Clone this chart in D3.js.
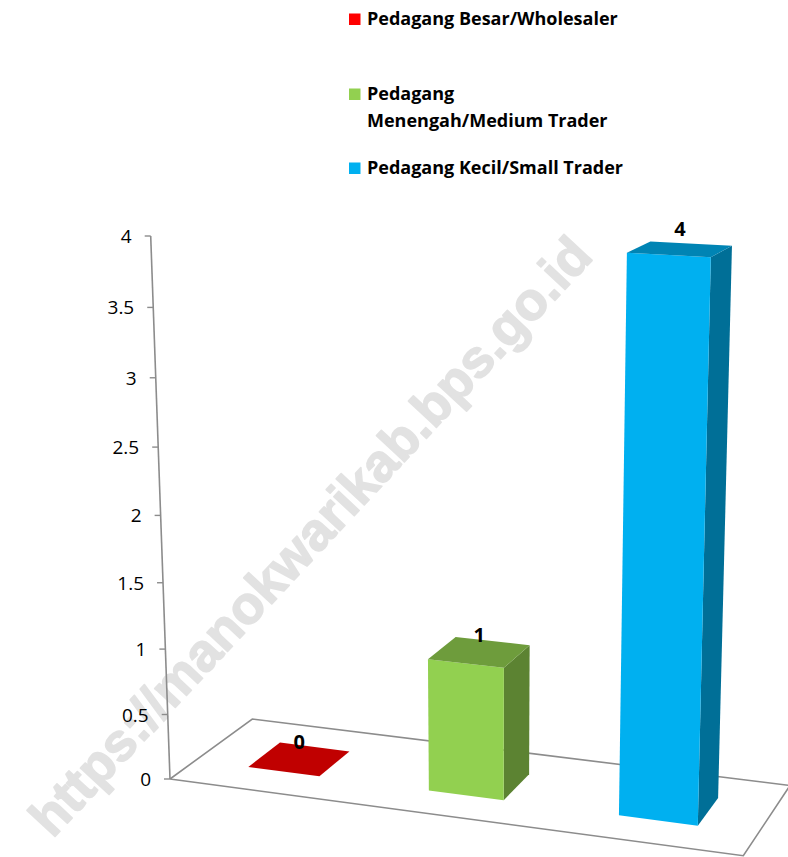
<!DOCTYPE html>
<html>
<head>
<meta charset="utf-8">
<script src="https://cdn.jsdelivr.net/npm/d3@7"></script>
<style>
  html, body { margin: 0; padding: 0; background: #fff; }
  svg { display: block; }
  text { font-family: "Open Sans", "Noto Sans", sans-serif; }
</style>
</head>
<body>
<div id="chart"></div>
<script>
// ---- data ----
var categories = ["Pedagang Besar/Wholesaler", "Pedagang Menengah/Medium Trader", "Pedagang Kecil/Small Trader"];
var legendLines = [["Pedagang Besar/Wholesaler"], ["Pedagang", "Menengah/Medium Trader"], ["Pedagang Kecil/Small Trader"]];
var values = [0, 1, 4];
var yTicks = [0, 0.5, 1, 1.5, 2, 2.5, 3, 3.5, 4];
var colors = ["#ff0000", "#92d050", "#00b0f0"];
var watermark = "https://manokwarikab.bps.go.id";

var width = 788, height = 857;

// Camera: where the floor corners, axis top and vertical vanishing point land on screen.
var cam = {
  origin: [170, 779],
  xEnd: [743.3, 855.7],
  zEnd: [252.3, 719],
  xzEnd: [790, 785.5],
  yEnd: [150.7, 236],
  vanishY: 9823
};

function makeProjection(c) {
  var O = c.origin, Px = c.xEnd, Pz = c.zEnd, Q = c.xzEnd, Py = c.yEnd;
  var a11 = Px[0] - Q[0], a12 = Pz[0] - Q[0], b1 = O[0] - Q[0];
  var a21 = Px[1] - Q[1], a22 = Pz[1] - Q[1], b2 = O[1] - Q[1];
  var det = a11 * a22 - a12 * a21;
  var A = (b1 * a22 - a12 * b2) / det;
  var C = (a11 * b2 - b1 * a21) / det;
  var B = (O[1] - c.vanishY) / (Py[1] - c.vanishY);
  function col(P, k) { return [k * P[0] - O[0], k * P[1] - O[1], k - 1]; }
  var a = col(Px, A), b = col(Py, B), cc = col(Pz, C);
  return function (x, y, z) {
    var hx = x * a[0] + y * b[0] + z * cc[0] + O[0];
    var hy = x * a[1] + y * b[1] + z * cc[1] + O[1];
    var hw = x * a[2] + y * b[2] + z * cc[2] + 1;
    return [hx / hw, hy / hw];
  };
}
var project = makeProjection(cam);

var x = d3.scaleBand().domain(categories).range([0, 1]).paddingInner(0.6).paddingOuter(0.3);
var y = d3.scaleLinear().domain([0, 4]).range([0, 1]);
var z0 = 0.3, z1 = 0.7;

var svg = d3.select("#chart").append("svg")
  .attr("width", width)
  .attr("height", height);

// Watermark
svg.append("text")
  .attr("transform", "translate(310,536) rotate(-47)")
  .attr("text-anchor", "middle")
  .attr("dominant-baseline", "central")
  .style("font-family", "'Liberation Sans', Arial, sans-serif")
  .style("font-weight", "bold")
  .style("font-size", "53px")
  .attr("fill", "#e2e2e2")
  .attr("stroke", "#e2e2e2")
  .attr("stroke-width", 1.5)
  .attr("stroke-linejoin", "round")
  .text(watermark);

// Floor frame
var line = d3.line();
var floor = [[0, 0, 0], [1, 0, 0], [1, 0, 1], [0, 0, 1], [0, 0, 0]];
svg.append("path")
  .attr("d", line(floor.map(function (p) { return project(p[0], p[1], p[2]); })))
  .attr("fill", "none")
  .attr("stroke", "#8c8c8c")
  .attr("stroke-width", 1.6);

// Value axis
var axisG = svg.append("g").attr("class", "y-axis");
axisG.append("path")
  .attr("d", line([project(0, 0, 0), project(0, 1, 0)]))
  .attr("stroke", "#8c8c8c")
  .attr("stroke-width", 1.6);

var ticks = axisG.selectAll(".tick")
  .data(yTicks)
  .join("g")
  .attr("class", "tick")
  .attr("transform", function (d) {
    var p = project(0, y(d), 0);
    return "translate(" + p[0] + "," + p[1] + ")";
  });
ticks.append("line")
  .attr("x1", -6).attr("x2", 0)
  .attr("stroke", "#8c8c8c")
  .attr("stroke-width", 1.4);
ticks.append("text")
  .attr("x", -19)
  .attr("y", 2)
  .attr("text-anchor", "end")
  .attr("dominant-baseline", "middle")
  .style("font-size", "19px")
  .attr("fill", "#000")
  .text(function (d) { return d; });

// Bars
var bars = categories.map(function (c, i) {
  return { cat: c, value: values[i], color: colors[i] };
});

function poly(pts) {
  return line(pts.map(function (p) { return project(p[0], p[1], p[2]); })) + "Z";
}

var barG = svg.selectAll(".bar")
  .data(bars)
  .join("g")
  .attr("class", "bar");

barG.each(function (d) {
  var g = d3.select(this);
  var u0 = x(d.cat), u1 = u0 + x.bandwidth(), h = y(d.value);
  var base = d3.color(d.color);
  if (h > 0) {
    g.append("path")
      .attr("d", poly([[u1, 0, z0], [u1, 0, z1], [u1, h, z1], [u1, h, z0]]))
      .attr("fill", base.darker(1.3));
    g.append("path")
      .attr("d", poly([[u0, 0, z0], [u1, 0, z0], [u1, h, z0], [u0, h, z0]]))
      .attr("fill", base);
  }
  g.append("path")
    .attr("d", poly([[u0, h, z0], [u1, h, z0], [u1, h, z1], [u0, h, z1]]))
    .attr("fill", base.darker(0.8));

  var top = project(u0 + x.bandwidth() / 2, h, (z0 + z1) / 2);
  g.append("text")
    .attr("x", top[0])
    .attr("y", top[1] - (h > 0.5 ? 13 : 10))
    .attr("text-anchor", "middle")
    .style("font-size", "20px")
    .style("font-weight", "bold")
    .attr("fill", "#000")
    .text(d.value);
});

// Legend
var legendTop = [25, 100, 174];
var legend = svg.append("g").attr("class", "legend");
var items = legend.selectAll("g")
  .data(legendLines)
  .join("g")
  .attr("transform", function (d, i) { return "translate(349," + legendTop[i] + ")"; });
items.append("rect")
  .attr("x", 0).attr("y", -11.5)
  .attr("width", 11.5).attr("height", 11.5)
  .attr("fill", function (d, i) { return colors[i]; });
items.append("text")
  .attr("x", 18)
  .style("font-size", "18px")
  .style("font-weight", "bold")
  .attr("fill", "#000")
  .selectAll("tspan")
  .data(function (d) { return d; })
  .join("tspan")
  .attr("x", 18)
  .attr("dy", function (d, j) { return j === 0 ? 0 : 26.7; })
  .text(function (d) { return d; });
</script>
</body>
</html>
